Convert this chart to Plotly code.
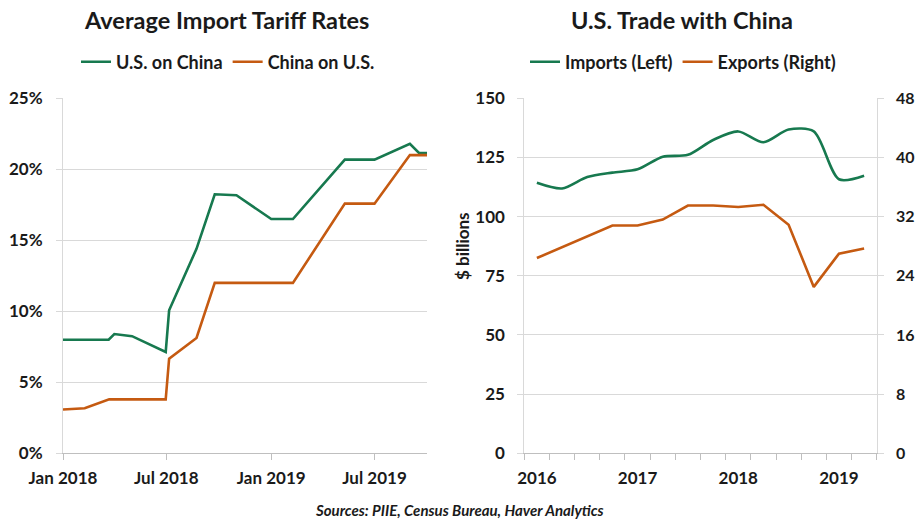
import plotly.graph_objects as go

# ---------------- Data ----------------
# Left panel: Average import tariff rates (%)
us_dates = ["2018-01-01", "2018-03-22", "2018-04-01", "2018-05-02", "2018-06-30",
            "2018-07-06", "2018-08-23", "2018-09-24", "2018-11-01", "2019-01-01",
            "2019-02-08", "2019-05-10", "2019-07-01", "2019-09-01", "2019-09-17",
            "2019-10-01"]
us_on_china = [8.0, 8.0, 8.4, 8.25, 7.13, 10.07, 14.4, 18.24, 18.17, 16.5,
               16.5, 20.68, 20.68, 21.8, 21.15, 21.15]

cn_dates = ["2018-01-01", "2018-02-08", "2018-03-23", "2018-06-30", "2018-07-06",
            "2018-08-23", "2018-09-24", "2019-02-08", "2019-05-10", "2019-07-01",
            "2019-09-01", "2019-10-01"]
china_on_us = [3.08, 3.17, 3.8, 3.8, 6.67, 8.12, 12.0, 12.0, 17.58, 17.58, 21.0, 21.0]

# Right panel: U.S. trade with China, quarterly ($ billions)
quarters = ["2016Q1", "2016Q2", "2016Q3", "2016Q4", "2017Q1", "2017Q2", "2017Q3",
            "2017Q4", "2018Q1", "2018Q2", "2018Q3", "2018Q4", "2019Q1", "2019Q2"]
imports = [114.3, 111.9, 116.7, 118.6, 120.0, 125.3, 126.1, 132.4, 136.0, 131.4,
           136.8, 136.0, 115.8, 117.3]
exports = [26.4, 27.9, 29.4, 30.8, 30.8, 31.6, 33.5, 33.5, 33.3, 33.6, 30.9, 22.5,
           27.0, 27.7]
year_ticks = ["2016", "2017", "2018", "2019"]

# ---------------- Style ----------------
GREEN = "#17794f"
ORANGE = "#c55a11"
GRID = "#d9d9d9"
AXIS = "#bfbfbf"
TXT = "#1a1a1a"
FONT = "Lato"
W, H = 916, 519

def px_x(a, b):
    return [a / W, b / W]

def px_y(top, bottom):
    return [(H - bottom) / H, (H - top) / H]

qx = list(range(len(quarters)))

fig = go.Figure()
fig.add_trace(go.Scatter(x=us_dates, y=us_on_china, mode="lines", name="U.S. on China",
                         line=dict(color=GREEN, width=2.6), xaxis="x", yaxis="y",
                         legend="legend"))
fig.add_trace(go.Scatter(x=cn_dates, y=china_on_us, mode="lines", name="China on U.S.",
                         line=dict(color=ORANGE, width=2.6), xaxis="x", yaxis="y",
                         legend="legend"))
fig.add_trace(go.Scatter(x=qx, y=imports, mode="lines", name="Imports (Left)",
                         line=dict(color=GREEN, width=2.6, shape="spline", smoothing=0.8),
                         xaxis="x2", yaxis="y2", legend="legend2"))
fig.add_trace(go.Scatter(x=qx, y=exports, mode="lines", name="Exports (Right)",
                         line=dict(color=ORANGE, width=2.6),
                         xaxis="x2", yaxis="y3", legend="legend2"))

tickfont = dict(family=FONT, size=17, color=TXT, weight="bold")
tickfont_r = dict(family=FONT, size=16, color=TXT, weight="bold")
ydom = px_y(98.3, 453.3)
legfont = dict(family=FONT, size=18, weight="bold", color=TXT)

fig.update_layout(
    template="none",
    width=W, height=H,
    margin=dict(l=0, r=0, t=0, b=0, pad=0, autoexpand=False),
    paper_bgcolor="white", plot_bgcolor="white",
    font=dict(family=FONT, color=TXT),
    showlegend=True,
    xaxis=dict(domain=px_x(63, 427), type="date", automargin=False,
               range=["2018-01-01", "2019-10-01"],
               tick0="2018-01-01", dtick="M6", tickformat="%b %Y",
               showgrid=False, showline=True, linecolor=AXIS, linewidth=1,
               ticks="outside", ticklen=6, tickcolor=AXIS, tickwidth=1,
               tickfont=tickfont, ticklabelstandoff=3, zeroline=False),
    yaxis=dict(domain=ydom, range=[0, 25], dtick=5, ticksuffix="%", automargin=False,
               showgrid=True, gridcolor=GRID, gridwidth=1,
               showline=True, linecolor=GRID, linewidth=1,
               ticks="outside", ticklen=6, tickcolor=GRID, tickwidth=1,
               tickfont=tickfont, ticklabelstandoff=10, zeroline=False),
    xaxis2=dict(domain=px_x(524.3, 876.7), range=[-0.5, len(quarters) - 0.5],
                automargin=False,
                tickmode="array", tickvals=[0, 4, 8, 12], ticktext=year_ticks,
                ticks="", showgrid=False, showline=True, linecolor=AXIS, linewidth=1,
                minor=dict(tick0=-0.5, dtick=1, ticks="outside", ticklen=6,
                           tickcolor=AXIS, tickwidth=1, showgrid=False),
                tickfont=tickfont, ticklabelstandoff=9, zeroline=False,
                anchor="y2"),
    yaxis2=dict(domain=ydom, range=[0, 150], dtick=25, anchor="x2", automargin=False,
                showgrid=True, gridcolor=GRID, gridwidth=1,
                showline=True, linecolor=GRID, linewidth=1,
                ticks="outside", ticklen=6, tickcolor=GRID, tickwidth=1,
                tickfont=tickfont, ticklabelstandoff=9, zeroline=False),
    yaxis3=dict(range=[0, 48], dtick=8, overlaying="y2", side="right", anchor="x2",
                automargin=False,
                showgrid=False, showline=True, linecolor=GRID, linewidth=1,
                ticks="outside", ticklen=6, tickcolor=GRID, tickwidth=1,
                tickfont=tickfont_r, ticklabelstandoff=9, zeroline=False),
    legend=dict(orientation="h", x=228 / W, xanchor="center", y=1 - 62 / H,
                yanchor="middle", font=legfont,
                bgcolor="rgba(0,0,0,0)", itemwidth=30, tracegroupgap=0),
    legend2=dict(orientation="h", x=683 / W, xanchor="center", y=1 - 62 / H,
                 yanchor="middle", font=legfont,
                 bgcolor="rgba(0,0,0,0)", itemwidth=30, tracegroupgap=0),
    annotations=[
        dict(text="Average Import Tariff Rates", x=226 / W, y=1 - 20 / H,
             xref="paper", yref="paper", showarrow=False, xanchor="center",
             yanchor="middle", font=dict(family=FONT, size=23.5, weight="bold",
                                         color=TXT)),
        dict(text="U.S. Trade with China", x=682 / W, y=1 - 20 / H,
             xref="paper", yref="paper", showarrow=False, xanchor="center",
             yanchor="middle", font=dict(family=FONT, size=23.5, weight="bold",
                                         color=TXT)),
        dict(text="$ billions", x=462 / W, y=1 - 246 / H, textangle=-90,
             xref="paper", yref="paper", showarrow=False, xanchor="center",
             yanchor="middle", font=dict(family=FONT, size=17, weight="bold",
                                         color=TXT)),
        dict(text="Sources: PIIE, Census Bureau, Haver Analytics", x=459 / W,
             y=1 - 510 / H, xref="paper", yref="paper", showarrow=False,
             xanchor="center", yanchor="middle",
             font=dict(family=FONT, size=15, weight="bold", style="italic",
                       color=TXT)),
    ],
)

fig.write_html(
    "out.html",
    config={"displayModeBar": False},
    post_script="document.body.style.margin='0';document.body.style.overflow='hidden';",
)
